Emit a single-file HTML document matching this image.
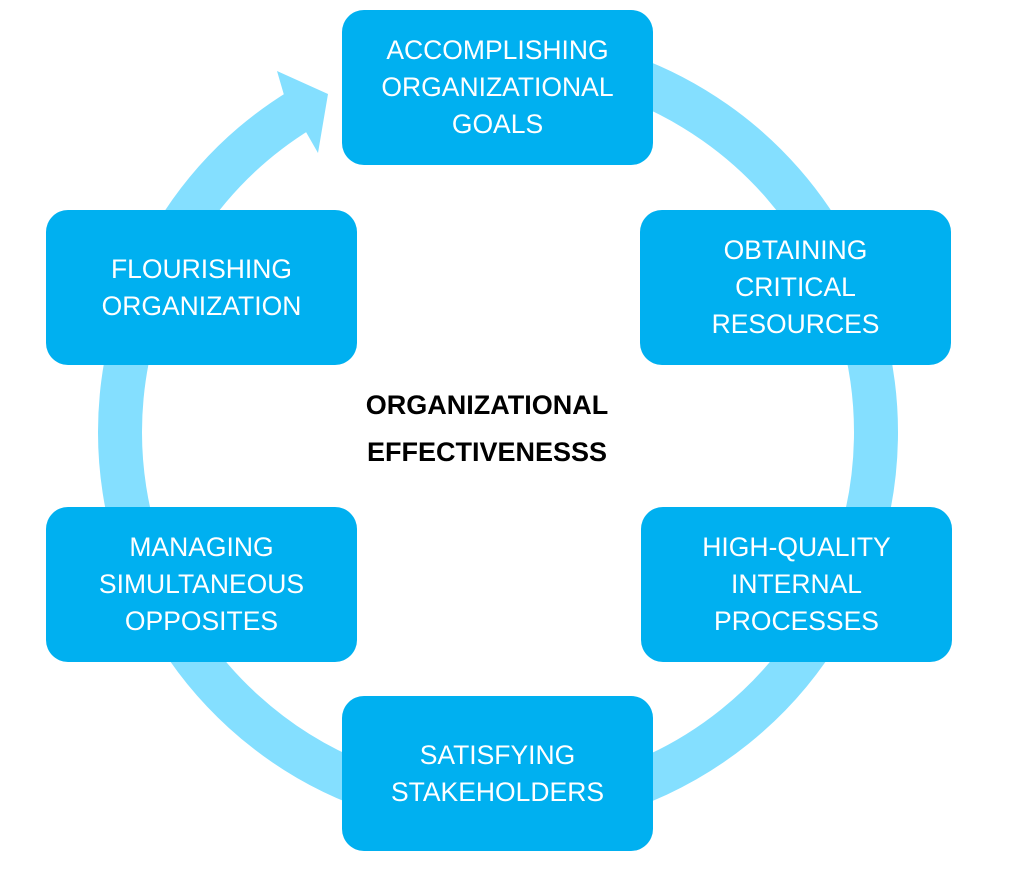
<!DOCTYPE html>
<html><head><meta charset="utf-8"><style>
html,body{margin:0;padding:0;background:#fff;}
body{width:1024px;height:871px;position:relative;overflow:hidden;font-family:"Liberation Sans",Arial,sans-serif;}
.box{position:absolute;width:311px;height:155px;background:#00B0F0;border-radius:22px;color:#fff;font-size:26.5px;line-height:37px;display:flex;align-items:center;justify-content:center;text-align:center;}
.center{position:absolute;left:290px;top:382px;width:394px;text-align:center;font-weight:bold;font-size:27px;line-height:47px;color:#000;}
</style></head><body>
<svg width="1024" height="871" style="position:absolute;left:0;top:0">
<path id="ring" fill="none" stroke="#84DFFF" stroke-width="44"/>
<polygon id="head" fill="#84DFFF"/>
</svg>
<div id="boxes"></div>
<div class="center">ORGANIZATIONAL<br>EFFECTIVENESSS</div>
<script>
const labels=[["ACCOMPLISHING","ORGANIZATIONAL","GOALS"],["OBTAINING","CRITICAL","RESOURCES"],["HIGH-QUALITY","INTERNAL","PROCESSES"],["SATISFYING","STAKEHOLDERS"],["MANAGING","SIMULTANEOUS","OPPOSITES"],["FLOURISHING","ORGANIZATION"]];
const names=["accomplishing-goals-box","obtaining-resources-box","internal-processes-box","satisfying-stakeholders-box","simultaneous-opposites-box","flourishing-organization-box"];
const pos=[[342,10],[640,210],[641,507],[342,696],[46,507],[46,210]];
const cont=document.getElementById('boxes');
labels.forEach((l,i)=>{
 const d=document.createElement('div');d.className='box';
 d.style.left=pos[i][0]+'px';d.style.top=pos[i][1]+'px';
 d.innerHTML=l.join('<br>');
 
 
 cont.appendChild(d);
});
const cx=498,cy=432,r=378;
const a0=280*Math.PI/180,a1=238.5*Math.PI/180;
const p=a=>[cx+r*Math.cos(a),cy+r*Math.sin(a)];
const s=p(a0),e=p(a1);
document.getElementById('ring').setAttribute('d',`M${s[0]},${s[1]} A${r},${r} 0 1 1 ${e[0]},${e[1]}`);
document.getElementById('head').setAttribute('points','277,71 328,94 318,153 306,132 284,95');
</script>
</body></html>
